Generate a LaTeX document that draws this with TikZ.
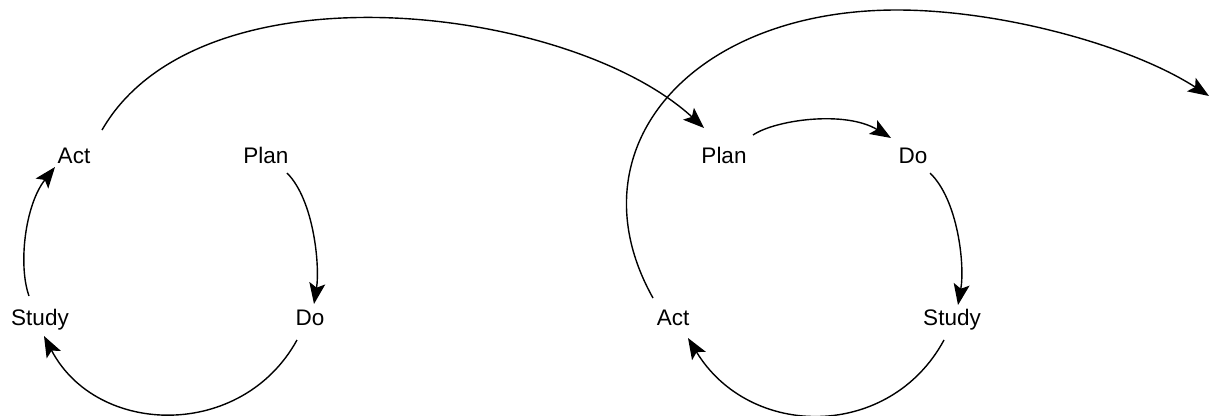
\documentclass[tikz,border=0pt]{standalone}
\usepackage{fontspec}
\setmainfont{Liberation Sans}
\usetikzlibrary{arrows.meta}
\begin{document}
\begin{tikzpicture}[x=1pt,y=-1pt,
  lbl/.style={inner sep=0pt,text height=16.1pt,text depth=0pt,font=\fontsize{22.5}{27}\selectfont},
  flow/.style={line width=1.4pt,-{Stealth[length=21pt,width=16pt,inset=4.5pt]}}]
\useasboundingbox[fill=white] (0,0) rectangle (1212,415);
% left cycle
\node[lbl] (act1)   at (74,155)  {Act};
\node[lbl] (plan1)  at (266,155) {Plan};
\node[lbl] (study1) at (40,317)  {Study};
\node[lbl] (do1)    at (310,317) {Do};
% right cycle
\node[lbl] (plan2)  at (724,155) {Plan};
\node[lbl] (do2)    at (913,155) {Do};
\node[lbl] (act2)   at (673,317) {Act};
\node[lbl] (study2) at (952,317) {Study};
\coordinate (apex) at (897,10);
\coordinate (exit) at (1209,96);
% left cycle arrows
\draw[flow] ([shift={(21,18)}]plan1.center) .. controls +(27,27) and +(6,-38) .. ([shift={(4,-13)}]do1.center);
\draw[flow] ([shift={(-13,23)}]do1.center) .. controls +(-55,100) and +(53,101) .. ([shift={(4,19)}]study1.center);
\draw[flow] ([shift={(-11,-21)}]study1.center) .. controls +(-11,-31) and +(-30,38) .. ([shift={(-19,12)}]act1.center);
% link to next cycle
\draw[flow] ([shift={(28,-25)}]act1.center) .. controls +(98,-170) and +(-134,-123) .. ([shift={(-20,-27)}]plan2.center);
% right cycle arrows
\draw[flow] ([shift={(29,-20)}]plan2.center) .. controls +(22,-15) and +(-46,-28) .. ([shift={(-22,-17)}]do2.center);
\draw[flow] ([shift={(17,18)}]do2.center) .. controls +(28,27) and +(7,-40) .. ([shift={(6,-12)}]study2.center);
\draw[flow] ([shift={(-8,23)}]study2.center) .. controls +(-54,100) and +(62,102) .. ([shift={(15,21)}]act2.center);
% outgoing arc
\draw[flow] ([shift={(-20,-19)}]act2.center) .. controls +(-83,-148) and +(-207,0) .. (apex)
  .. controls +(103,0) and +(-79,-51) .. (exit);
\end{tikzpicture}
\end{document}
